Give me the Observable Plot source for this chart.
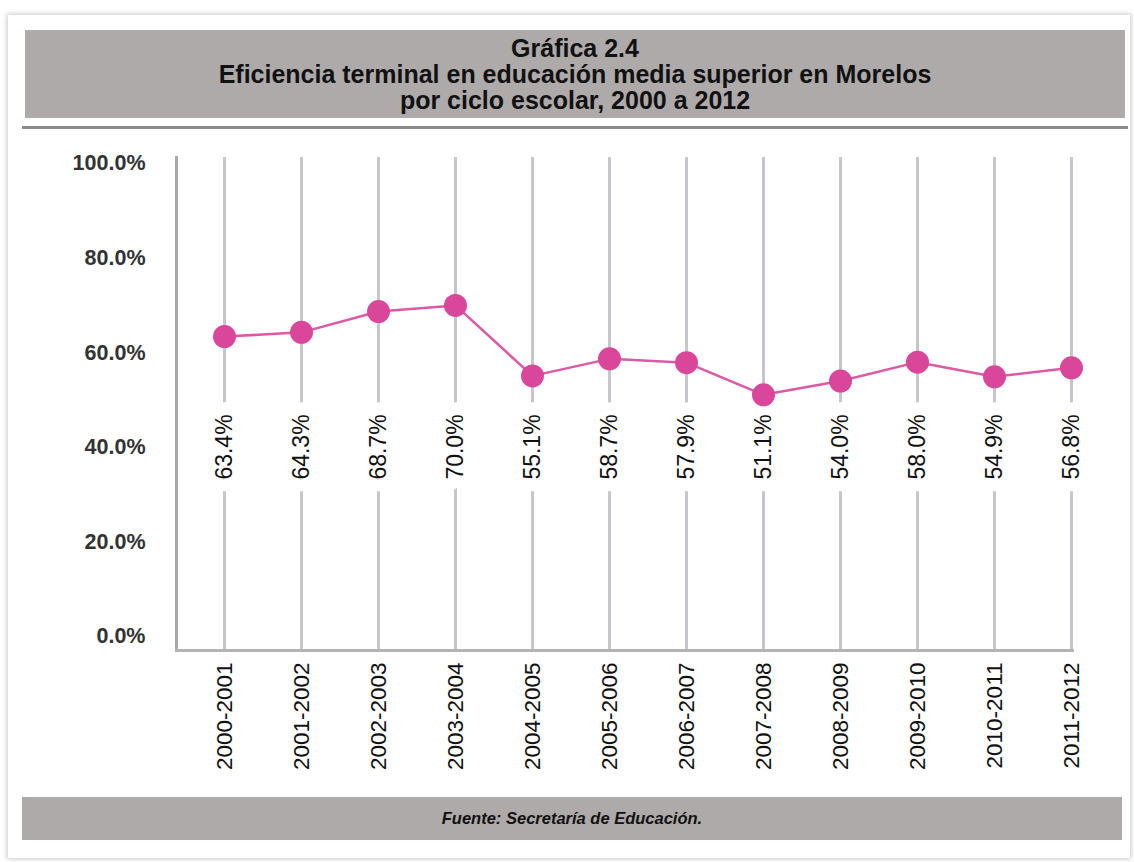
<!DOCTYPE html>
<html>
<head>
<meta charset="utf-8">
<script src="https://cdn.jsdelivr.net/npm/d3@7"></script>
<script src="https://cdn.jsdelivr.net/npm/@observablehq/plot@0.6"></script>
<style>
  html, body { margin: 0; padding: 0; background: #fff; }
  body { width: 1134px; height: 862px; position: relative; overflow: hidden; font-family: "Liberation Sans", Arial, Helvetica, sans-serif; }
  #card { position: absolute; left: 8px; top: 15px; width: 1122px; height: 843px; background: #fff; box-shadow: 0 0 5px 1px rgba(0,0,0,0.22); }
  #titleband { position: absolute; left: 25px; top: 30px; width: 1100px; height: 88px; background: #aeaaa9;
    display: flex; flex-direction: column; justify-content: center; align-items: center;
    font-weight: bold; font-size: 25px; line-height: 26px; color: #111; text-align: center; }
  #sep { position: absolute; left: 22px; top: 126px; width: 1106px; height: 3px; background: #8c8a8a; }
  #chart { position: absolute; left: 0; top: 130px; }
  #footband { position: absolute; left: 22px; top: 797px; width: 1100px; height: 43px; background: #aeaaa9;
    display: flex; justify-content: center; align-items: center;
    font-weight: bold; font-style: italic; font-size: 16.5px; color: #111; }
</style>
</head>
<body>
<div id="card"></div>
<div id="titleband">
  <div>Gráfica 2.4</div>
  <div>Eficiencia terminal en educación media superior en Morelos</div>
  <div>por ciclo escolar, 2000 a 2012</div>
</div>
<div id="sep"></div>
<div id="chart"></div>
<div id="footband">Fuente: Secretaría de Educación.</div>
<script>
const ciclos = ["2000-2001","2001-2002","2002-2003","2003-2004","2004-2005","2005-2006","2006-2007","2007-2008","2008-2009","2009-2010","2010-2011","2011-2012"];
const eficiencia = [63.4, 64.3, 68.7, 70.0, 55.1, 58.7, 57.9, 51.1, 54.0, 58.0, 54.9, 56.8];
const yTicks = [0, 20, 40, 60, 80, 100];

const data = ciclos.map((c, i) => ({ciclo: c, valor: eficiencia[i]}));

const chart = Plot.plot({
  width: 1134,
  height: 660,
  marginTop: 27,
  marginBottom: 140,
  marginLeft: 176,
  marginRight: 62,
  style: {fontFamily: "'Liberation Sans', Arial, Helvetica, sans-serif", background: "transparent"},
  x: {type: "point", domain: ciclos, insetLeft: 47, insetRight: 0, padding: 0},
  y: {domain: [0, 100], insetTop: 6, insetBottom: 14},
  marks: [
    Plot.ruleX(ciclos, {x: d => d, stroke: "#c6c7cb", strokeWidth: 3}),
    Plot.frame({anchor: "left", stroke: "#a9a8a8", strokeWidth: 3}),
    Plot.frame({anchor: "bottom", stroke: "#b3b2b4", strokeWidth: 3}),
    Plot.axisY({ticks: yTicks, tickSize: 0, tickPadding: 31, tickFormat: d => d.toFixed(1) + "%",
      fontSize: 21.5, fontWeight: "bold", fill: "#333", label: null}),
    Plot.axisX({tickSize: 0, tickPadding: 12, tickRotate: -90, fontSize: 22.5, fill: "#111", label: null}),
    Plot.text(data, {x: "ciclo", text: d => d.valor.toFixed(1) + "%", rotate: -90, frameAnchor: "middle", dy: 43,
      fontSize: 23, fill: "#111", stroke: "white", strokeWidth: 26, strokeLinejoin: "round"}),
    Plot.line(data, {x: "ciclo", y: "valor", stroke: "#dc5aa3", strokeWidth: 2.5}),
    Plot.dot(data, {x: "ciclo", y: "valor", r: 11.5, fill: "#d9469a", stroke: "none"})
  ]
});
document.getElementById("chart").appendChild(chart);
</script>
</body>
</html>
